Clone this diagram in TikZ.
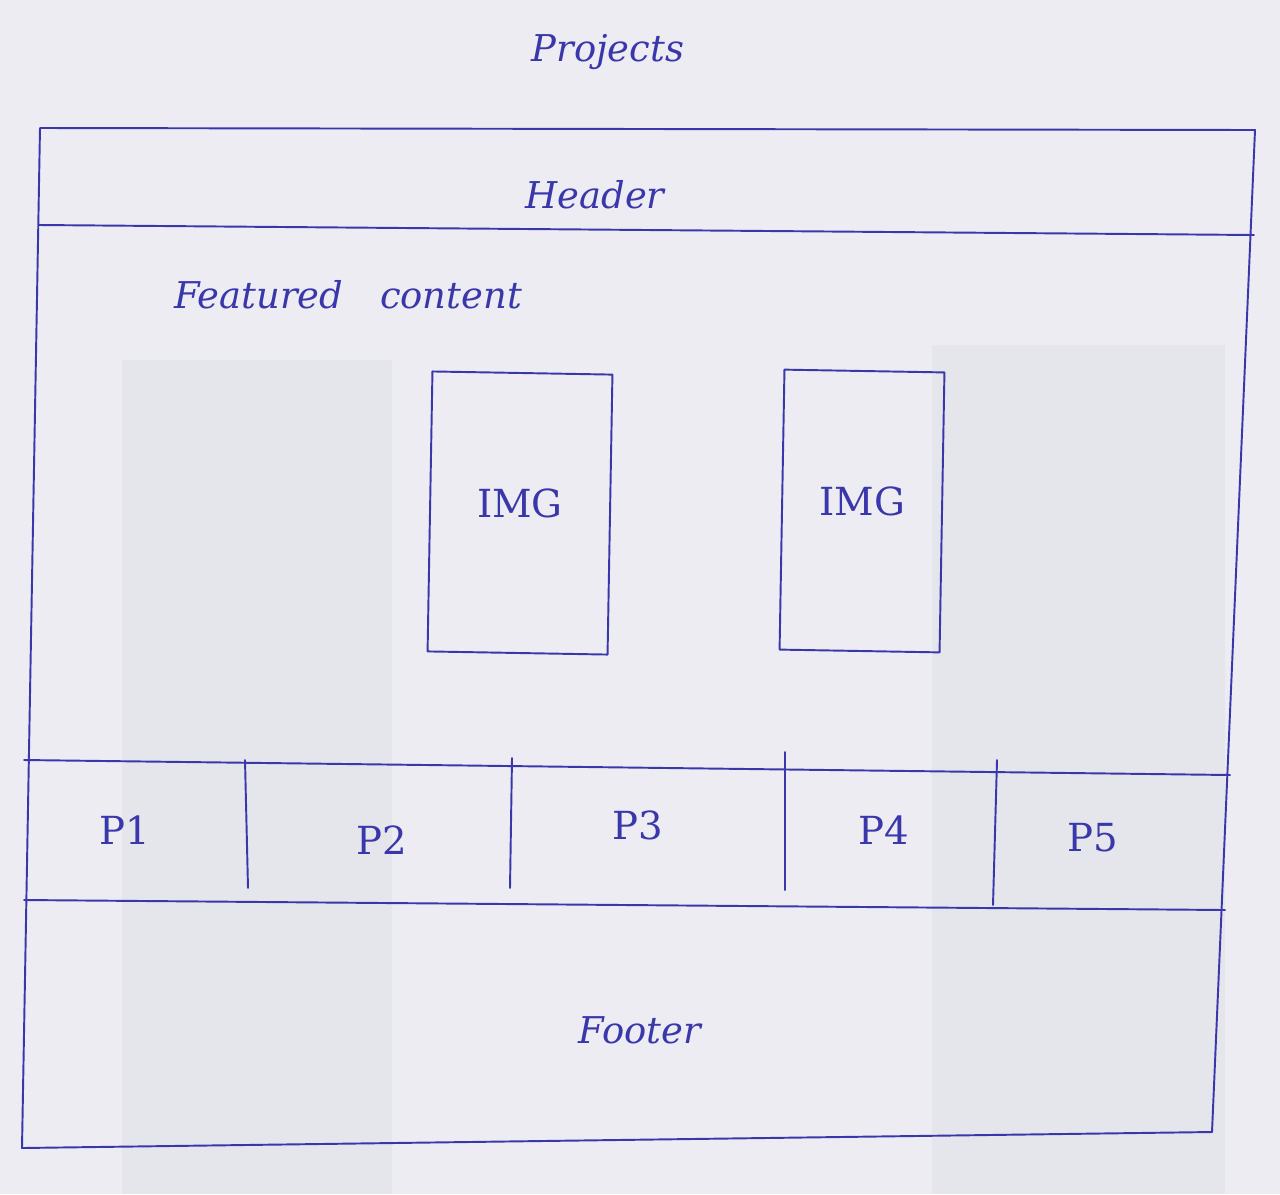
\documentclass[tikz,border=0pt]{standalone}
\usepackage{fontspec}
\setmainfont{DejaVu Serif}
\begin{document}
\begin{tikzpicture}[x=0.02cm,y=-0.02cm,
  ink/.style={draw=inkc,line width=1.1pt,line join=round,line cap=round},
  hand/.style={text=inkc,font=\itshape\fontsize{21}{25}\selectfont,inner sep=0pt},
  small/.style={text=inkc,font=\fontsize{22}{26}\selectfont,inner sep=0pt}]
\definecolor{inkc}{RGB}{58,55,170}
\definecolor{paper}{RGB}{236,236,242}
\definecolor{fold}{RGB}{229,229,236}
\fill[paper] (0,0) rectangle (1280,1194);
\useasboundingbox (0,0) rectangle (1280,1194);
% faint folds
\fill[fold] (122,360) rectangle (392,1194);
\fill[fold] (932,345) rectangle (1225,1194);
% title
\node[hand] (title) at (608,52) {Projects};
% outer frame
\coordinate (tl) at (40,128);
\coordinate (tr) at (1255,130);
\coordinate (br) at (1212,1132);
\coordinate (bl) at (22,1148);
\draw[ink] (tl) -- (tr) -- (br) -- (bl) -- cycle;
% header
\coordinate (hl) at (39,225);
\coordinate (hr) at (1254,235);
\draw[ink] (hl) -- (hr);
\node[hand] (header) at (595,195) {Header};
\node[hand] (featured) at (348,295) {Featured\quad content};
% images
\node[ink,minimum width=180*0.02cm,minimum height=280*0.02cm,rotate=-1,inner sep=0pt] (img1) at (520,513) {};
\node[small] at (img1) [yshift=0.2cm]{IMG};
\node[ink,minimum width=160*0.02cm,minimum height=280*0.02cm,rotate=-1,inner sep=0pt] (img2) at (862,511) {};
\node[small] at (img2) [yshift=0.2cm]{IMG};
% nav band
\coordinate (n1) at (24,760);
\coordinate (n2) at (1230,775);
\coordinate (n3) at (24,900);
\coordinate (n4) at (1225,910);
\draw[ink] (n1) -- (n2);
\draw[ink] (n3) -- (n4);
\coordinate (d1a) at (245,760); \coordinate (d1b) at (248,888);
\coordinate (d2a) at (512,758); \coordinate (d2b) at (510,888);
\coordinate (d3a) at (785,752); \coordinate (d3b) at (785,890);
\coordinate (d4a) at (997,760); \coordinate (d4b) at (993,905);
\draw[ink] (d1a) -- (d1b);
\draw[ink] (d2a) -- (d2b);
\draw[ink] (d3a) -- (d3b);
\draw[ink] (d4a) -- (d4b);
\node[small] (p1) at (125,830) {P1};
\node[small] (p2) at (382,840) {P2};
\node[small] (p3) at (638,825) {P3};
\node[small] (p4) at (884,830) {P4};
\node[small] (p5) at (1093,838) {P5};
\node[hand] (footer) at (640,1030) {Footer};
\end{tikzpicture}
\end{document}
